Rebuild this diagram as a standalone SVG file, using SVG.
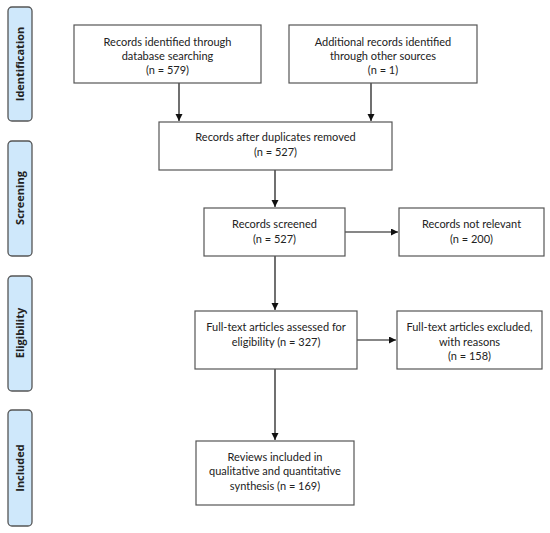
<svg xmlns="http://www.w3.org/2000/svg" width="550" height="533" viewBox="0 0 550 533">
<style>
.box{fill:#fff;stroke:#555;stroke-width:1.2}
.side{fill:#cfe8fb;stroke:#555;stroke-width:1.3}
.t{font-family:Lato,"Open Sans",sans-serif;font-size:11px;fill:#222;text-anchor:middle}
.s{font-family:"Open Sans","DejaVu Sans",sans-serif;font-size:11px;font-weight:bold;fill:#222;text-anchor:middle}
.c{stroke:#111;stroke-width:1.2;fill:none;marker-end:url(#ah)}
</style>
<defs>
<marker id="ah" markerWidth="8" markerHeight="8" refX="7" refY="3.5" orient="auto" markerUnits="userSpaceOnUse">
<path d="M0,0 L7,3.5 L0,7 z" fill="#111"/>
</marker>
</defs>
<g id="side-identification"><rect class="side" x="8" y="7" width="24" height="114" rx="4"/><text class="s" transform="translate(24,64) rotate(-90)">Identification</text></g>
<g id="side-screening"><rect class="side" x="8" y="141" width="24" height="115" rx="4"/><text class="s" transform="translate(24,198) rotate(-90)">Screening</text></g>
<g id="side-eligibility"><rect class="side" x="8" y="276" width="24" height="115" rx="4"/><text class="s" transform="translate(24,333) rotate(-90)">Eligibility</text></g>
<g id="side-included"><rect class="side" x="8" y="410" width="24" height="116" rx="4"/><text class="s" transform="translate(24,468) rotate(-90)">Included</text></g>

<g id="connectors">
<path class="c" d="M179,83 V121"/>
<path class="c" d="M371,83 V121"/>
<path class="c" d="M275,170 V207"/>
<path class="c" d="M345,232 H398"/>
<path class="c" d="M275,256 V310"/>
<path class="c" d="M357,340 H396"/>
<path class="c" d="M275,369 V440"/>
</g>

<g id="n1"><rect class="box" x="74" y="25" width="187" height="58"/>
<text class="t" x="167.5" y="46">Records identified through</text>
<text class="t" x="167.5" y="60">database searching</text>
<text class="t" x="167.5" y="74">(n = 579)</text></g>
<g id="n2"><rect class="box" x="289" y="25" width="188" height="58"/>
<text class="t" x="383" y="46">Additional records identified</text>
<text class="t" x="383" y="60">through other sources</text>
<text class="t" x="383" y="74">(n = 1)</text></g>
<g id="n3"><rect class="box" x="159" y="122" width="233" height="48"/>
<text class="t" x="275.5" y="141">Records after duplicates removed</text>
<text class="t" x="275.5" y="156">(n = 527)</text></g>
<g id="n4"><rect class="box" x="204" y="208" width="141" height="48"/>
<text class="t" x="274.5" y="228">Records screened</text>
<text class="t" x="274.5" y="243">(n = 527)</text></g>
<g id="n5"><rect class="box" x="399" y="208" width="145" height="48"/>
<text class="t" x="471.5" y="228">Records not relevant</text>
<text class="t" x="471.5" y="243">(n = 200)</text></g>
<g id="n6"><rect class="box" x="195" y="311" width="162" height="58"/>
<text class="t" x="276" y="331">Full-text articles assessed for</text>
<text class="t" x="276" y="346">eligibility (n = 327)</text></g>
<g id="n7"><rect class="box" x="397" y="311" width="145" height="58"/>
<text class="t" x="469.5" y="331">Full-text articles excluded,</text>
<text class="t" x="469.5" y="346">with reasons</text>
<text class="t" x="469.5" y="360">(n = 158)</text></g>
<g id="n8"><rect class="box" x="196" y="441" width="158" height="64"/>
<text class="t" x="275" y="461">Reviews included in</text>
<text class="t" x="275" y="475">qualitative and quantitative</text>
<text class="t" x="275" y="490">synthesis (n = 169)</text></g>
</svg>
